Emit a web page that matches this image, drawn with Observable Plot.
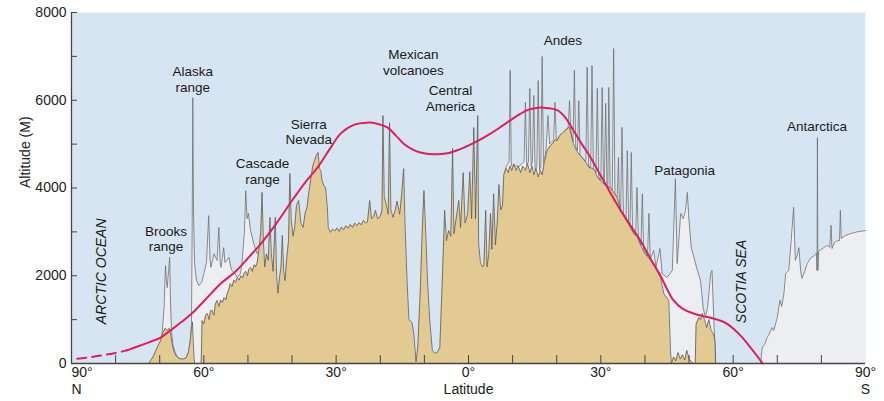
<!DOCTYPE html>
<html><head><meta charset="utf-8">
<script src="https://cdn.jsdelivr.net/npm/d3@7"></script>
<script src="https://cdn.jsdelivr.net/npm/@observablehq/plot@0.6"></script>
<style>body{margin:0;background:#fff;} svg{display:block}</style>
</head><body><div id="chart"></div>
<script>
// latitude: + = North, - = South ; altitude in metres
const yTicks = [0,1000,2000,3000,4000,5000,6000,7000,8000];
const yTickLabels = [0,2000,4000,6000,8000];
const xTicks = [80,70,60,50,40,30,20,10,0,-10,-20,-30,-40,-50,-60,-70,-80];
const xTickLabels = [60,30,0,-30,-60];

// snow line (red)
const snowlineDashed = [[88.7,110],[86,140],[83.4,180],[80,240],[77.4,300]];
const snowline = [[77.4,300],[74.4,410],[72,500],[69.8,590],[67.5,760],[65,950],[62.6,1150],[60,1420],[56.2,1820],[53,2080],[50,2400],[47,2740],[43.5,3200],[40,3715],[37,4130],[34.2,4470],[31.5,4880],[29,5240],[26,5440],[22.9,5490],[20.5,5460],[18.4,5380],[16.5,5200],[14.7,5010],[12.5,4870],[10.9,4810],[8,4770],[4.8,4790],[2,4880],[-0.9,5010],[-5,5240],[-8,5440],[-11.1,5650],[-13.5,5780],[-15.9,5830],[-18,5820],[-20.2,5770],[-22,5600],[-23.8,5310],[-25.7,5000],[-27.7,4690],[-29.6,4350],[-31.5,4010],[-34.5,3490],[-36.8,3130],[-39,2800],[-41.2,2400],[-43.5,2005],[-45,1700],[-46.5,1436],[-48.5,1250],[-51,1140],[-53.2,1080],[-55.5,1025],[-58,940],[-60,800],[-62,600],[-63.9,365],[-66.7,0]];

// mean land profile (tan)
const meanProfile = [[72.5,0],[71.5,150],[70.5,380],[69.8,520],[69.3,700],[68.8,800],[68.3,760],[67.8,800],[67.5,650],[67.2,450],[66.8,280],[66.2,160],[65.5,110],[64.7,100],[64,130],[63.5,260],[63.1,500],[62.8,800],[62.6,950],[62.4,500],[62.2,100],[62.1,0],[60.6,0],[60.4,980],[60.0,900],[59.6,1100],[59.2,1140],[58.8,1000],[58.5,1200],[58.1,1210],[57.7,1100],[57.4,1350],[57.0,1436],[56.6,1300],[56.2,1450],[55.8,1390],[55.4,1500],[55.0,1450],[54.7,1595],[54.3,1700],[54.0,1820],[53.6,1750],[53.2,1900],[52.8,1850],[52.4,1960],[52.0,1900],[51.6,2000],[51.2,1950],[50.9,2050],[50.5,2100],[50.1,2000],[49.8,2150],[49.4,2190],[49.0,2100],[48.6,2250],[48.3,2200],[47.9,2300],[47.5,2600],[47.1,3000],[46.8,3900],[46.5,2800],[46.2,2200],[45.8,2500],[45.4,2350],[45.0,3330],[44.7,2500],[44.3,2100],[43.8,3330],[43.5,2000],[43.2,1600],[42.8,2000],[42.5,2200],[42.2,2920],[41.9,2100],[41.6,1890],[41.2,2400],[40.8,2800],[40.5,4330],[40.2,3300],[39.8,2900],[39.4,3100],[39.0,3600],[38.5,3715],[38.0,3200],[37.5,3100],[37.0,3450],[36.6,3560],[36.2,3900],[35.8,4170],[35.3,4500],[34.9,4630],[34.5,4740],[34.1,4810],[33.8,4450],[33.5,4400],[33.2,4170],[32.8,4060],[32.4,4000],[32.0,3560],[31.8,3100],[31.3,2990],[30.8,3060],[30.3,3020],[29.8,3090],[29.3,3010],[28.8,3110],[28.3,3050],[27.8,3140],[27.3,3080],[26.8,3170],[26.3,3100],[25.8,3200],[25.3,3140],[24.8,3210],[24.3,3160],[23.8,3260],[23.3,3200],[22.9,3230],[22.4,3715],[22.0,3300],[21.5,3350],[21.1,3490],[20.6,3300],[20.0,3350],[19.6,3500],[19.4,5650],[19.1,3800],[18.6,3600],[18.2,3400],[17.9,5490],[17.6,3500],[17.1,3330],[16.6,3500],[16.2,3700],[15.6,3400],[15.2,3800],[14.7,4440],[14.4,3200],[13.9,1820],[13.5,1000],[12.8,935],[12.4,680],[11.9,40],[11.5,365],[10.9,1730],[10.5,3000],[10.1,3940],[9.7,3000],[9.3,1900],[8.8,1000],[8.2,300],[7.6,230],[7.1,250],[6.5,365],[6.0,1730],[5.4,3490],[5.0,2800],[4.5,3030],[4.0,2900],[3.6,4900],[3.3,2960],[2.8,3300],[2.2,3715],[1.8,3100],[1.2,4350],[0.8,3200],[0.2,3400],[-0.3,4370],[-0.7,3300],[-1.2,5380],[-1.6,3300],[-2.1,5650],[-2.3,2735],[-2.7,2300],[-3.2,2200],[-3.5,2250],[-3.9,3490],[-4.2,2200],[-4.6,2500],[-5.0,3420],[-5.3,2600],[-5.7,3870],[-6.1,2700],[-6.5,3200],[-6.9,4080],[-7.3,3500],[-7.7,3600],[-8.0,4300],[-8.5,4450],[-9.0,4350],[-9.4,4500],[-9.8,4400],[-10.3,4550],[-10.8,4400],[-11.3,4500],[-11.8,4350],[-12.3,4500],[-12.9,4400],[-13.4,4550],[-13.9,4350],[-14.4,4500],[-14.8,4300],[-15.3,4450],[-15.8,4250],[-16.3,4400],[-16.7,4300],[-17.2,4600],[-17.8,4850],[-18.4,4950],[-19.0,5000],[-19.6,5100],[-20.1,5080],[-20.7,5200],[-21.2,5240],[-21.8,5300],[-22.4,5350],[-22.8,5400],[-23.3,5200],[-23.8,5000],[-24.5,4850],[-25.2,4750],[-25.8,4690],[-26.5,4600],[-27.3,4470],[-28.0,4450],[-28.6,4400],[-29.2,4250],[-29.9,4170],[-30.6,4100],[-31.3,4050],[-32.2,4010],[-32.9,3900],[-33.7,3790],[-34.5,3490],[-35.6,3300],[-36.7,3100],[-37.5,2950],[-38.2,2900],[-39.0,2700],[-40.0,2500],[-41.3,2350],[-42.5,2150],[-43.5,1960],[-44.3,1590],[-45.4,1440],[-45.8,300],[-46.0,0],[-46.5,150],[-47.0,60],[-47.5,250],[-48.0,100],[-48.5,200],[-49.0,80],[-49.5,300],[-50.0,100],[-50.5,50],[-51.0,0],[-51.4,0],[-51.6,900],[-52.2,1050],[-52.6,1000],[-53.0,1140],[-53.5,1000],[-54.0,820],[-54.5,1000],[-55.0,750],[-55.5,680],[-55.9,500],[-56.0,0]];

// maximum altitude, where above the mean profile (grey outline)
const maxNorth = [[72.5,0],[71.5,150],[70.5,380],[69.8,520],[69.4,750],[69.0,1300],[68.7,2230],[68.5,1900],[68.3,1730],[68.0,2100],[67.75,2420],[67.55,1400],[67.3,700],[67.0,420],[66.5,250],[66.0,150],[65.3,100],[64.6,100],[64.0,140],[63.5,270],[63.1,520],[62.8,900],[62.65,3000],[62.5,6060],[62.35,3500],[62.1,2300],[61.7,1900],[61.1,1780],[60.5,1850],[60.0,2050],[59.4,2300],[58.9,3370],[58.6,2400],[58.4,2190],[57.7,2500],[57.0,2350],[56.6,3100],[56.3,2300],[56.1,2190],[55.5,2640],[55.2,2300],[54.8,2350],[54.3,2420],[53.9,2200],[53.6,2120],[53.0,2050],[52.4,1960],[51.7,2050],[51.3,2350],[50.8,3000],[50.5,3940],[50.2,3300],[49.9,3420],[49.4,3030],[48.7,2735],[47.9,2500],[47.5,2600]];
const maxAndes = [[-8.0,4300],[-8.6,4500],[-9.2,4600],[-9.45,6680],[-9.7,4500],[-10.5,4500],[-11.5,4500],[-12.6,4600],[-12.9,5950],[-13.2,4500],[-13.6,4600],[-13.9,6270],[-14.2,4500],[-14.5,4600],[-14.8,6110],[-15.1,4400],[-15.5,4500],[-15.8,6450],[-16.1,4400],[-16.4,4500],[-16.7,7000],[-17.0,4500],[-17.6,4900],[-18.0,5650],[-18.4,5000],[-19.3,5100],[-19.6,5950],[-19.9,5100],[-21.2,5250],[-22.6,5400],[-22.9,5990],[-23.2,5300],[-23.7,5050],[-24.0,6680],[-24.3,4950],[-24.7,4850],[-25.0,5990],[-25.3,4750],[-26.6,4600],[-26.9,6750],[-27.2,4500],[-27.7,4470],[-28.0,6790],[-28.3,4450],[-28.9,4350],[-29.2,6270],[-29.5,4250],[-30.0,4170],[-30.3,6290],[-30.6,4100],[-30.8,4100],[-31.1,5930],[-31.4,4050],[-31.6,4050],[-31.8,6290],[-32.1,4010],[-32.6,3950],[-32.9,7180],[-33.2,3850],[-33.7,3790],[-34.0,4700],[-34.2,3700],[-34.5,3500],[-34.8,5380],[-35.1,3400],[-35.7,3250],[-36.0,4850],[-36.3,3150],[-36.6,3050],[-36.9,4810],[-37.2,3000],[-37.9,2900],[-38.2,4010],[-38.5,2850],[-39.1,2700],[-39.4,3870],[-39.7,2600],[-40.6,2450],[-40.9,3420],[-41.2,2380],[-42.0,2575],[-42.5,2200],[-43.4,2620],[-43.9,2050],[-45.0,1960],[-46.2,2120],[-46.9,4210],[-47.3,2280],[-48.1,3420],[-48.7,3300],[-49.2,3490],[-49.6,3900],[-50.0,3260],[-50.5,2640],[-51.1,2420],[-51.9,2120],[-52.6,1890],[-53.2,1280],[-53.7,1050],[-54.2,1280],[-54.9,2050],[-55.2,2120],[-55.6,1050],[-56.0,70],[-56.1,0]];
const antarctica = [[-66.2,0],[-66.6,365],[-67.2,450],[-67.7,590],[-68.3,700],[-68.8,820],[-69.2,750],[-70.0,1050],[-70.6,1440],[-71.0,1300],[-71.5,1590],[-71.9,2050],[-72.6,2120],[-73.1,2735],[-73.7,3560],[-74.1,2350],[-74.6,2500],[-74.9,2640],[-75.3,2120],[-75.6,1940],[-76.2,2100],[-76.8,2280],[-77.5,2400],[-78.3,2450],[-78.9,2520],[-79.0,2120],[-79.1,5150],[-79.2,2120],[-79.4,2560],[-80.5,2640],[-81.3,2690],[-81.9,2650],[-82.2,3150],[-82.4,2620],[-83.0,2760],[-83.6,2800],[-84.1,2800],[-84.3,3490],[-84.5,2850],[-85.5,2920],[-86.6,2960],[-88.0,3000],[-90,3030]];

const regionLabels = [
  {lat: 68.6, alt: 2850, text: "Brooks\nrange"},
  {lat: 62.5, alt: 6490, text: "Alaska\nrange"},
  {lat: 46.7, alt: 4387, text: "Cascade\nrange"},
  {lat: 36.2, alt: 5290, text: "Sierra\nNevada"},
  {lat: 12.5, alt: 6870, text: "Mexican\nvolcanoes"},
  {lat: 4.1, alt: 6050, text: "Central\nAmerica"},
  {lat: -21.4, alt: 7384, text: "Andes"},
  {lat: -49.0, alt: 4420, text: "Patagonia"},
  {lat: -79.0, alt: 5410, text: "Antarctica"}
];
const seaLabels = [
  {lat: 83.2, alt: 2100, text: "ARCTIC OCEAN"},
  {lat: -61.85, alt: 1870, text: "SCOTIA SEA"}
];

const BG = "#d7e5f3", GREY = "#eceef2", TAN = "#e3ca93", RED = "#d8225d", AX = "#444";
const lat = d => d[0], alt = d => d[1];
const font = "'Liberation Sans', Arial, sans-serif";

const chart = Plot.plot({
  width: 884, height: 401,
  marginLeft: 71, marginRight: 19, marginTop: 12, marginBottom: 38,
  style: {fontFamily: font, fontSize: "14px", color: "#222", background: "white"},
  x: {domain: [90, -90], axis: null},
  y: {domain: [0, 8000], axis: null},
  marks: [
    Plot.frame({fill: BG, stroke: "none"}),
    Plot.areaY(maxNorth, {x: lat, y: alt, fill: GREY}),
    Plot.areaY(maxAndes, {x: lat, y: alt, fill: GREY}),
    Plot.areaY(antarctica, {x: lat, y: alt, fill: GREY}),
    Plot.line(maxNorth, {x: lat, y: alt, stroke: "#6e6e6e", strokeWidth: 0.8}),
    Plot.line(maxAndes, {x: lat, y: alt, stroke: "#6e6e6e", strokeWidth: 0.8}),
    Plot.line(antarctica, {x: lat, y: alt, stroke: "#6e6e6e", strokeWidth: 0.8}),
    Plot.areaY(meanProfile, {x: lat, y: alt, fill: TAN}),
    Plot.line(meanProfile, {x: lat, y: alt, stroke: "#5a5a5a", strokeWidth: 0.8}),
    Plot.line(snowlineDashed, {x: lat, y: alt, stroke: RED, strokeWidth: 2, strokeDasharray: "9,6", curve: "catmull-rom"}),
    Plot.line(snowline, {x: lat, y: alt, stroke: RED, strokeWidth: 2, curve: "catmull-rom"}),
    Plot.tickY(yTicks, {y: d => d, insetRight: 788, stroke: AX, strokeWidth: 1}),
    Plot.tickX(xTicks, {x: d => d, insetTop: 343, stroke: AX, strokeWidth: 1}),
    Plot.ruleX([90], {stroke: AX, strokeWidth: 1.3}),
    Plot.ruleY([0], {stroke: AX, strokeWidth: 1.3}),
    Plot.axisY({ticks: yTickLabels, tickSize: 0, tickPadding: 5, tickFormat: d => String(d), label: null, fontSize: 14}),
    Plot.axisX({ticks: xTickLabels, tickSize: 0, tickPadding: 4, tickFormat: d => Math.abs(d) + "°", label: null, fontSize: 14}),
    Plot.axisX({ticks: [90], tickSize: 0, tickPadding: 4, tickFormat: d => d + "°", textAnchor: "start", label: null, fontSize: 14}),
    Plot.axisX({ticks: [-90], tickSize: 0, tickPadding: 4, tickFormat: d => Math.abs(d) + "°", label: null, fontSize: 14}),
    Plot.text([90], {x: d => d, text: () => "N", frameAnchor: "bottom", dy: 26, textAnchor: "start", lineAnchor: "middle", fontSize: 14}),
    Plot.text([-90], {x: d => d, text: () => "S", frameAnchor: "bottom", dy: 26, lineAnchor: "middle", fontSize: 14}),
    Plot.text(["Latitude"], {frameAnchor: "bottom", dy: 26, lineAnchor: "middle", fontSize: 14}),
    Plot.text(["Altitude (M)"], {frameAnchor: "left", dx: -46, rotate: -90, lineAnchor: "middle", fontSize: 14}),
    Plot.text(regionLabels, {x: "lat", y: "alt", text: "text", fontSize: 13.5, lineHeight: 1.17, lineAnchor: "middle", fill: "#1a1a1a"}),
    Plot.text(seaLabels, {x: "lat", y: "alt", text: "text", fontSize: 14, fontStyle: "italic", rotate: -90, lineAnchor: "middle", fill: "#1a1a1a"})
  ]
});
document.getElementById("chart").appendChild(chart);
</script>
</body></html>
